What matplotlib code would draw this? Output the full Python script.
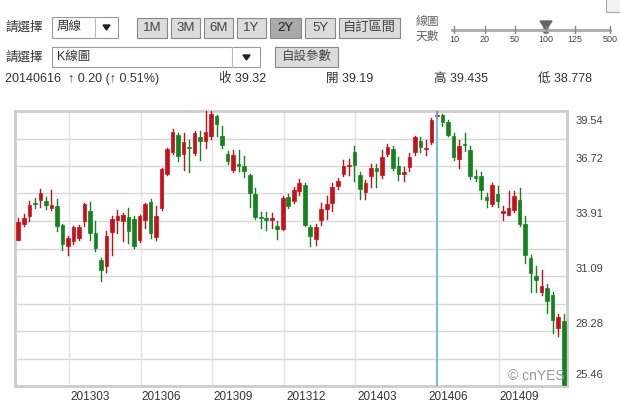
import matplotlib
matplotlib.use("Agg")
import matplotlib.pyplot as plt
from matplotlib.patches import Rectangle, Polygon
from matplotlib.transforms import offset_copy

plt.rcParams['font.family'] = ['Liberation Sans', 'Noto Sans CJK TC', 'DejaVu Sans']

opens = [32.95,33.77,34.15,34.83,35.0,34.92,34.58,34.66,33.69,32.61,32.87,33.04,33.89,34.44,33.29,31.93,31.62,33.33,33.94,33.93,
         34.09,34.01,32.95,33.94,34.87,33.09,34.58,36.33,37.43,38.33,37.34,37.68,37.39,38.21,37.99,38.28,39.27,38.28,37.36,36.5,
         36.83,36.71,36.28,35.29,34.11,34.06,33.94,33.67,33.5,35.12,34.92,35.43,35.77,33.6,32.97,33.96,34.52,34.83,35.68,36.33,
         36.71,37.43,36.28,35.38,36.2,36.62,36.28,37.36,37.6,36.71,36.3,36.66,37.43,38.02,37.57,37.95,39.27,39.35,38.96,38.28,
         37.09,37.87,37.53,36.2,36.23,35.14,34.8,35.29,34.32,34.23,34.46,35.0,33.77,32.01,31.07,30.26,30.48,30.14,28.41,28.79]
highs = [34.07,34.29,34.92,35.09,35.55,35.14,35.51,35.04,33.77,33.12,33.67,33.72,34.83,34.87,33.89,32.01,33.38,34.15,34.46,34.32,
         34.58,34.15,34.23,34.83,35.04,34.66,36.62,37.65,38.62,38.42,38.42,38.07,38.5,38.5,39.53,39.56,39.35,38.79,37.48,37.56,
         37.53,37.22,36.33,35.6,34.35,34.35,34.32,33.89,35.17,35.31,35.65,36.06,35.86,33.72,33.77,34.85,35.17,35.86,36.11,37.05,
         37.09,37.77,36.4,35.99,36.85,36.85,37.53,37.85,37.74,37.16,36.67,37.39,38.28,38.19,38.07,39.17,39.52,39.4,39.09,38.42,
         38.07,38.42,37.73,36.54,36.4,35.34,35.86,35.72,34.7,35.43,35.43,35.6,34.15,32.18,31.59,31.41,30.7,30.26,29.14,29.14]
lows = [32.92,33.67,33.89,34.58,34.63,34.52,34.49,33.38,32.44,32.15,32.75,32.95,33.64,32.95,32.36,30.82,31.28,32.18,33.29,32.87,
        32.78,32.53,32.82,33.55,33.04,32.95,34.49,36.28,37.36,36.97,36.54,36.4,37.31,37.02,37.65,38.11,38.24,37.65,36.85,36.4,
        36.45,36.16,34.63,34.01,33.55,33.46,33.55,32.99,33.43,34.58,34.83,35.26,33.64,32.61,32.68,33.7,34.0,34.41,35.55,36.23,
        36.28,35.94,35.03,35.03,35.65,35.65,36.11,37.26,36.5,35.99,35.94,36.49,37.29,37.46,37.31,37.87,39.18,38.79,38.24,37.05,
        36.62,37.48,36.06,35.94,35.03,34.63,34.7,34.63,33.94,34.23,34.35,33.64,31.75,30.27,30.27,30.14,29.19,28.18,28.02,25.42]
closes = [33.86,34.06,34.75,34.78,35.34,34.75,34.73,33.64,32.75,33.04,33.6,33.6,34.78,33.29,32.53,31.38,33.12,34.01,34.18,34.23,
          33.41,32.61,34.15,34.78,33.29,34.18,36.57,37.6,38.47,37.26,37.94,37.63,38.42,37.99,38.47,39.39,38.89,37.82,36.97,37.31,
          36.74,36.49,35.34,34.11,34.04,33.94,34.06,33.5,35.09,34.66,35.51,35.86,33.72,33.14,33.6,34.51,34.8,35.65,35.94,36.71,
          36.78,36.8,35.55,35.86,36.62,36.49,37.19,37.68,36.62,36.3,36.42,37.21,38.19,37.72,37.65,39.06,39.35,39.0,38.33,37.19,
          37.73,37.8,36.23,36.13,35.51,35.0,35.77,34.92,34.4,34.58,35.17,33.77,32.18,31.24,30.9,30.6,29.8,28.86,29.0,25.52]
x_labels = ['201303','201306','201309','201312','201403','201406','201409']
x_label_pos = [13, 26, 39, 52.2, 65.2, 78, 91]
x_grid_pos = [9.2, 22.2, 35.2, 48.2, 61.2, 87.2]
y_ticks = [39.54, 36.72, 33.91, 31.09, 28.28, 25.46]
cursor_idx = 76

W, H = 620, 404
fig = plt.figure(figsize=(6.2, 4.04), dpi=100)
ax = fig.add_axes([15/W, 1-386/H, 552/W, 275/H])
red, green = '#c8101a', '#14821e'
n = len(opens)
for i in range(n):
    o, h, l, c = opens[i], highs[i], lows[i], closes[i]
    col = red if c >= o else green
    ax.plot([i, i], [l, h], color=col, lw=1.0, zorder=3)
    bh = max(abs(c - o), 0.06)
    ax.add_patch(Rectangle((i-0.33, min(o, c)), 0.66, bh, facecolor=col, edgecolor=col, lw=0.5, zorder=4))
ax.set_xlim(-0.6, n-0.4)
ax.set_ylim(25.46, 39.54)
step = (39.54-25.46)/10
for k in range(1, 10):
    ax.axhline(25.46+k*step, color='#d8d8d8', lw=1, zorder=1)
for gx in x_grid_pos:
    ax.axvline(gx, color='#e2e2e2', lw=1, zorder=1)
ax.axvline(cursor_idx, color='#5ab4d8', lw=1.2, zorder=5)
ax.set_xticks([]); ax.set_yticks([])
for s in ax.spines.values():
    s.set_color('#cccccc'); s.set_linewidth(2)
for lab, p in zip(x_labels, x_label_pos):
    ax.text(p, -0.02, lab, transform=ax.get_xaxis_transform(), ha='center', va='top', fontsize=8.5, color='#333333')
tr = ax.get_yaxis_transform()
for v in y_ticks:
    if v == y_ticks[0]:
        off = -7
    elif v == y_ticks[-1]:
        off = 8
    else:
        off = 5
    t = offset_copy(tr, fig=fig, x=0, y=off, units='points')
    ax.text(1.015, v, f'{v:.2f}', transform=t, ha='left', va='center', fontsize=8, color='#444444')
ax.text(0.995, 0.035, '© cnYES', transform=ax.transAxes, ha='right', va='center', fontsize=10, color='#999999', zorder=6)

# UI overlay
ui = fig.add_axes([0, 0, 1, 1], zorder=-1)
ui.set_xlim(0, W); ui.set_ylim(H, 0); ui.axis('off')

def box(x0, y0, x1, y1, fc='white', ec='#999999'):
    ui.add_patch(Rectangle((x0, y0), x1-x0, y1-y0, facecolor=fc, edgecolor=ec, lw=0.8))

def txt(x, y, s, size=9, ha='left', color='#333333'):
    ui.text(x, y, s, ha=ha, va='center', fontsize=size, color=color)

txt(5, 28, '請選擇')
box(52, 17, 118, 38); ui.plot([95, 95], [17, 38], color='#bbbbbb', lw=0.8)
txt(57, 27, '周線')
ui.add_patch(Polygon([[103, 25], [110, 25], [106.5, 30]], color='#222222'))
btns = [('1M', 137, 167), ('3M', 171, 200), ('6M', 204, 233), ('1Y', 237, 266), ('2Y', 270, 301), ('5Y', 305, 335), ('自訂區間', 339, 400)]
for lab, x0, x1 in btns:
    fc = '#a9a9a9' if lab == '2Y' else '#dcdcdc'
    box(x0, 18, x1, 38, fc=fc, ec='#888888')
    txt((x0+x1)/2, 28, lab, size=9.5, ha='center', color='#222222' if lab == '2Y' else '#444444')
txt(416, 22, '線圖', size=8.5, color='#666666')
txt(416, 37, '天數', size=8.5, color='#666666')
ui.plot([452, 610], [30, 30], color='#aaaaaa', lw=2)
for sx, sl in zip([454, 485, 515, 546, 575, 610], ['10', '20', '50', '100', '125', '500']):
    ui.plot([sx, sx], [26, 33], color='#888888', lw=1)
    ui.text(sx, 39, sl, ha='center', va='center', fontsize=6.5, color='#444444')
ui.add_patch(Polygon([[540, 21], [552, 21], [548, 27], [548, 33], [544, 33], [544, 27]], color='#666666'))
box(606, -2, 622, 12, fc='#f2f2f2', ec='#aaaaaa')
txt(5, 58, '請選擇')
box(52, 47, 260, 67); ui.plot([232, 232], [47, 67], color='#bbbbbb', lw=0.8)
txt(57, 57, 'K線圖')
ui.add_patch(Polygon([[243, 55], [250, 55], [246.5, 60]], color='#222222'))
box(275, 47, 338, 67, fc='#dcdcdc', ec='#888888')
txt(306.5, 57, '自設參數', ha='center', color='#444444')
txt(5, 79, '20140616  ↑ 0.20 (↑ 0.51%)', size=9)
txt(219, 79, '收 39.32', size=9)
txt(326, 79, '開 39.19', size=9)
txt(434, 79, '高 39.435', size=9)
txt(538, 79, '低 38.778', size=9)

fig.savefig('out.png', dpi=100)
